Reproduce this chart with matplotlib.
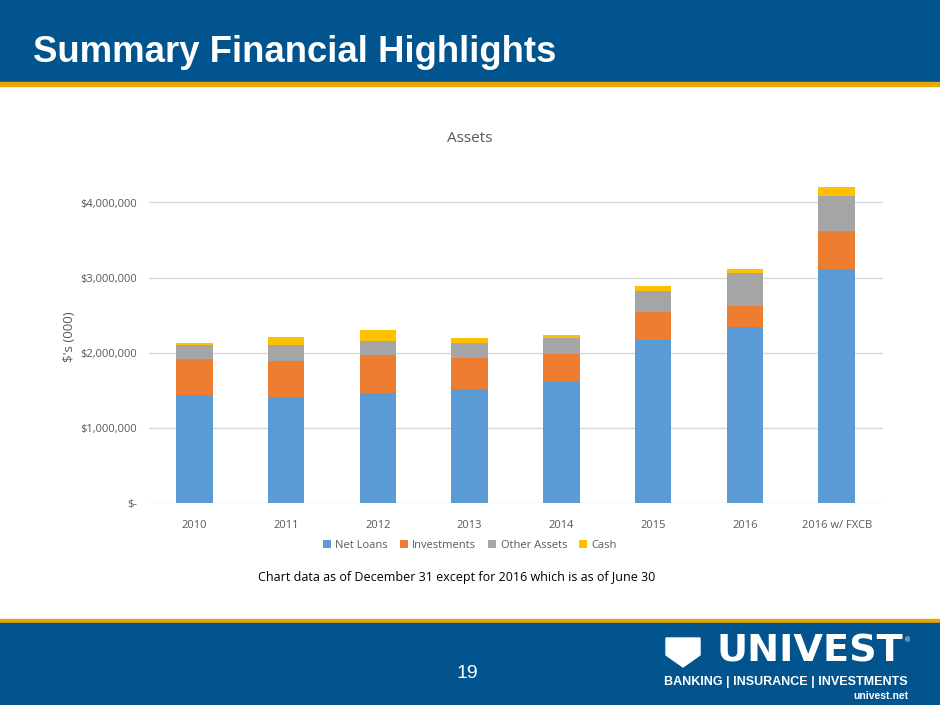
import matplotlib
matplotlib.use("Agg")
import matplotlib.pyplot as plt
from matplotlib.patches import Rectangle, Polygon
from matplotlib.ticker import FuncFormatter

categories = ["2010", "2011", "2012", "2013", "2014", "2015", "2016", "2016 w/ FXCB"]
net_loans = [1444000, 1417000, 1461000, 1515000, 1608000, 2164000, 2337000, 3115000]
investments = [467000, 471000, 503000, 409000, 369000, 373000, 284000, 512000]
other_assets = [196000, 213000, 191000, 200000, 223000, 284000, 446000, 461000]
cash = [27000, 107000, 152000, 67000, 35000, 63000, 48000, 116000]
series_names = ["Net Loans", "Investments", "Other Assets", "Cash"]
y_ticks = [0, 1000000, 2000000, 3000000, 4000000]

colors = ["#5B9BD5", "#ED7D31", "#A5A5A5", "#FFC000"]
W, H = 940, 705
fig = plt.figure(figsize=(W / 100, H / 100), dpi=100)

def fx(px):
    return px / W

def fy(py):
    return 1 - py / H

# Header / footer bands
bg = fig.add_axes([0, 0, 1, 1], zorder=0)
bg.set_xlim(0, W)
bg.set_ylim(H, 0)
bg.axis("off")
blue = "#02548F"
gold = "#E9A800"
bg.add_patch(Rectangle((0, 0), W, 82, color=blue))
bg.add_patch(Rectangle((0, 82), W, 4, color=gold))
bg.add_patch(Rectangle((0, 619), W, 4, color=gold))
bg.add_patch(Rectangle((0, 623), W, 82, color=blue))
bg.text(33, 52, "Summary Financial Highlights", color="white", fontsize=26.3,
        fontweight="bold", family="Liberation Sans", va="center", ha="left")
bg.text(467, 673, "19", color="white", fontsize=14, family="Liberation Sans",
        va="center", ha="center")
# Logo (approximation)
bg.add_patch(Polygon([(666, 638), (700, 638), (700, 655), (683, 667), (666, 655)],
                     closed=True, color="white"))
bg.text(903, 651, "UNIVEST", color="white", fontsize=27.5, fontweight="bold",
        family="DejaVu Sans", va="center", ha="right")
bg.text(904, 640, "®", color="white", fontsize=5, va="center", ha="left")
bg.text(908, 682, "BANKING | INSURANCE | INVESTMENTS", color="white", fontsize=9.0,
        fontweight="bold", family="Liberation Sans", va="center", ha="right")
bg.text(908, 696, "univest.net", color="white", fontsize=7.5, fontweight="bold",
        family="Liberation Sans", va="center", ha="right")

# Chart
left, right, top, bottom = 148.5, 882.5, 170, 503
ax = fig.add_axes([fx(left), fy(bottom), fx(right - left), fy(top) - fy(bottom)], zorder=1)
ax.patch.set_alpha(0)
x = list(range(len(categories)))
bottoms = [0] * len(categories)
for vals, name, c in zip([net_loans, investments, other_assets, cash], series_names, colors):
    ax.bar(x, vals, width=0.4, bottom=bottoms, color=c, label=name, zorder=3)
    bottoms = [b + v for b, v in zip(bottoms, vals)]

ax.set_xlim(-0.5, len(categories) - 0.5)
ax.set_ylim(0, 4000000 * (bottom - top) / (503 - 202.5))
ax.set_yticks(y_ticks)
ax.yaxis.set_major_formatter(FuncFormatter(lambda v, p: "$-" if v == 0 else f"${v:,.0f}"))
ax.set_xticks(x)
ax.set_xticklabels(categories)
ax.grid(axis="y", color="#D9D9D9", linewidth=1, zorder=0)
for s in ax.spines.values():
    s.set_visible(False)
ax.tick_params(length=0, labelsize=8, labelcolor="#595959", pad=12)
ax.tick_params(axis="y", pad=8)
for lbl in ax.get_xticklabels() + ax.get_yticklabels():
    lbl.set_family("Open Sans")
ax.set_ylabel("$'s (000)", fontsize=9.5, color="#595959", family="Open Sans", labelpad=3)

fig.text(fx(470), fy(139), "Assets", fontsize=11, color="#595959", family="Open Sans",
         ha="center", va="center")
leg = fig.legend(loc="center", bbox_to_anchor=(fx(470), fy(545)), ncol=4, frameon=False,
                 prop={"family": "Open Sans", "size": 8}, handlelength=0.7, handleheight=0.7,
                 handletextpad=0.4, columnspacing=1.1)
for t in leg.get_texts():
    t.set_color("#595959")
fig.text(fx(457), fy(578), "Chart data as of December 31 except for 2016 which is as of June 30",
         fontsize=9, color="black", family="Open Sans", ha="center", va="center")

fig.savefig("out.png", dpi=100)
